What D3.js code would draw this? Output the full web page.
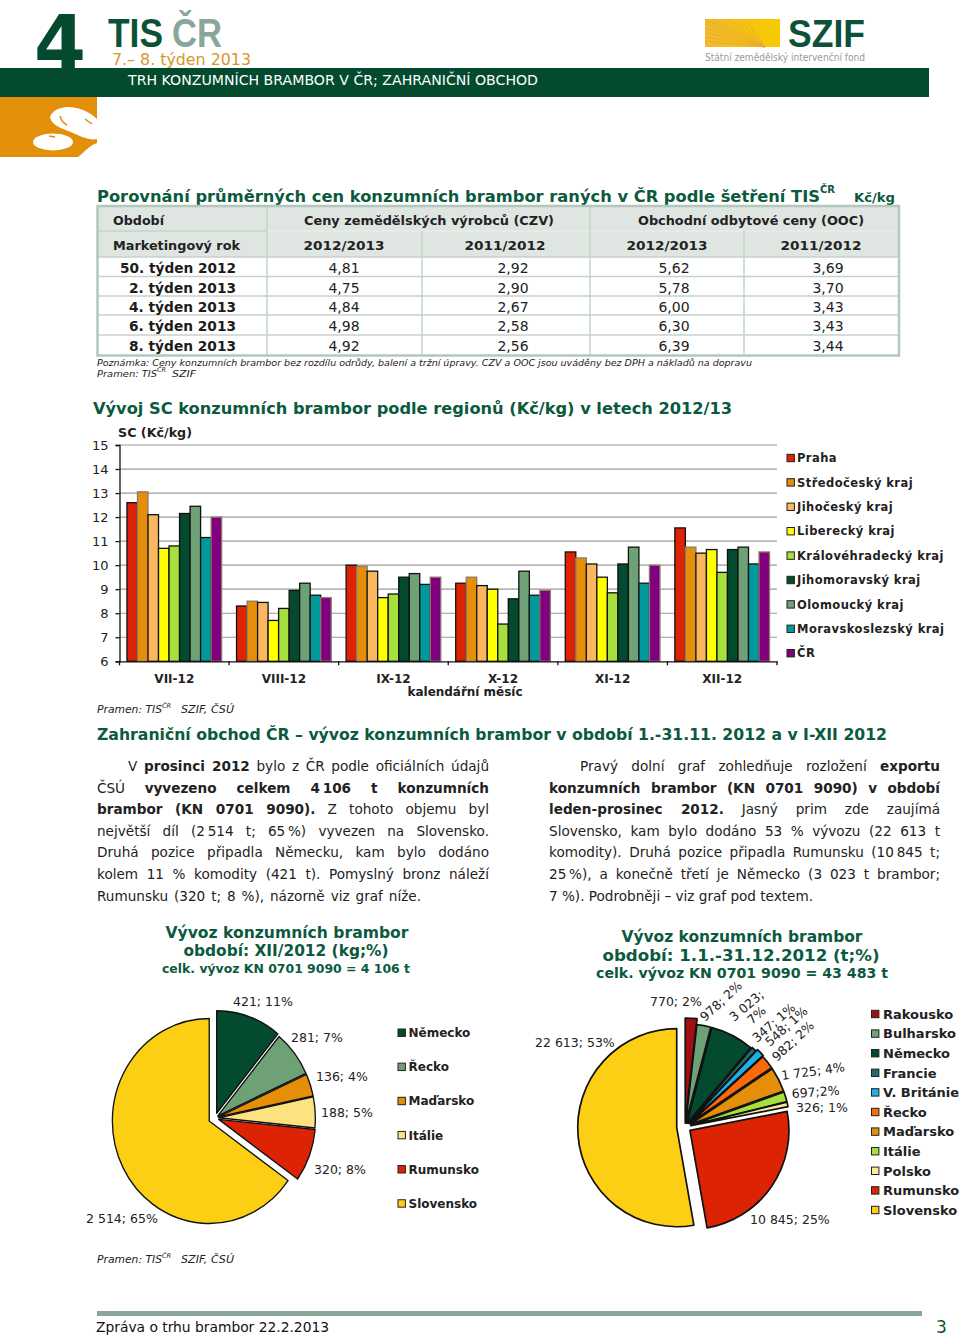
<!DOCTYPE html>
<html>
<head>
<meta charset="utf-8">
<script src="https://d3js.org/d3.v7.min.js"></script>
<style>
html, body { margin: 0; padding: 0; background: #fff; }
svg { display: block; }
text { font-family: "DejaVu Sans", sans-serif; }
</style>
</head>
<body>
<script>
// table
const weeks = ["50. týden 2012", "2. týden 2013", "4. týden 2013", "6. týden 2013", "8. týden 2013"];
const czv1213 = ["4,81", "4,75", "4,84", "4,98", "4,92"];
const czv1112 = ["2,92", "2,90", "2,67", "2,58", "2,56"];
const ooc1213 = ["5,62", "5,78", "6,00", "6,30", "6,39"];
const ooc1112 = ["3,69", "3,70", "3,43", "3,43", "3,44"];

// bar chart
const months = ["VII-12", "VIII-12", "IX-12", "X-12", "XI-12", "XII-12"];
const regions = ["Praha", "Středočeský kraj", "Jihočeský kraj", "Liberecký kraj", "Královéhradecký kraj",
  "Jihomoravský kraj", "Olomoucký kraj", "Moravskoslezský kraj", "ČR"];
const praha = [12.6, 8.3, 10.0, 9.25, 10.55, 11.55];
const stredocesky = [13.05, 8.5, 9.95, 9.5, 10.3, 10.75];
const jihocesky = [12.1, 8.45, 9.75, 9.15, 10.05, 10.5];
const liberecky = [10.7, 7.7, 8.65, 9.0, 9.5, 10.65];
const kralovehradecky = [10.8, 8.2, 8.8, 7.55, 8.85, 9.7];
const jihomoravsky = [12.15, 8.95, 9.5, 8.6, 10.05, 10.65];
const olomoucky = [12.45, 9.25, 9.65, 9.75, 10.75, 10.75];
const moravskoslezsky = [11.15, 8.75, 9.2, 8.75, 9.25, 10.05];
const cr = [12.0, 8.65, 9.5, 8.95, 10.0, 10.55];
const regionValues = [praha, stredocesky, jihocesky, liberecky, kralovehradecky, jihomoravsky, olomoucky, moravskoslezsky, cr];
const regionColors = ["#dc2304", "#e58e0a", "#fbb75f", "#ffff00", "#a5e03c", "#034a2e", "#6fa176", "#009a9c", "#800080"];

// pies
const pie1Names = ["Německo", "Řecko", "Maďarsko", "Itálie", "Rumunsko", "Slovensko"];
const pie1Values = [421, 281, 136, 188, 320, 2514];
const pie1Labels = ["421; 11%", "281; 7%", "136; 4%", "188; 5%", "320; 8%", "2 514; 65%"];
const pie1Colors = ["#034a2e", "#6fa176", "#e58e0a", "#fde280", "#dc2304", "#fccf15"];

const pie2Names = ["Rakousko", "Bulharsko", "Německo", "Francie", "V. Británie", "Řecko", "Maďarsko", "Itálie", "Polsko", "Rumunsko", "Slovensko"];
const pie2Values = [770, 978, 3023, 347, 548, 982, 1725, 697, 326, 10845, 22613];
const pie2Colors = ["#a00f14", "#6fa176", "#034a2e", "#1b6e70", "#1fb0e8", "#fb6a0a", "#e58e0a", "#a5e03c", "#fde9a0", "#dc2304", "#fccf15"];

var green = "#0b5a3e", dark = "#222";

var svg = d3.select("body").append("svg").attr("width", 960).attr("height", 1336);

// small helper, width squeezes the text to the measured width of the original
function t(x, y, str, o) {
  o = o || {};
  var el = svg.append("text").attr("x", x).attr("y", y).text(str)
    .attr("font-size", o.size || 12)
    .attr("font-weight", o.bold ? "bold" : "normal")
    .attr("font-style", o.italic ? "italic" : "normal")
    .attr("fill", o.fill || dark)
    .attr("text-anchor", o.anchor || "start");
  if (o.font) el.style("font-family", o.font);
  if (o.width) el.attr("textLength", o.width).attr("lengthAdjust", "spacingAndGlyphs");
  if (o.spacing) el.attr("letter-spacing", o.spacing);
  if (o.rotate) el.attr("transform", "rotate(" + o.rotate + " " + x + " " + y + ")");
  return el;
}

// ---- header
t(34, 70, "4", {size: 76, bold: true, fill: "#034a2e", width: 52});
t(108, 47, "TIS", {size: 41, bold: true, fill: "#0d5238", width: 55, font: "Liberation Sans"});
t(172, 47, "ČR", {size: 41, bold: true, fill: "#8aa69a", width: 50, font: "Liberation Sans"});
t(112, 65, "7.– 8. týden 2013", {size: 16, fill: "#d8962a", width: 139});
svg.append("rect").attr("x", 0).attr("y", 68).attr("width", 929).attr("height", 29).attr("fill", "#034a2e");
t(128, 85, "TRH KONZUMNÍCH BRAMBOR V ČR; ZAHRANIČNÍ OBCHOD", {size: 14, fill: "#fff", width: 410});

svg.append("rect").attr("x", 0).attr("y", 97).attr("width", 97).attr("height", 60).attr("fill", "#e38f0a");
svg.append("path").attr("fill", "#fff")
  .attr("d", "M50,117C53,108 66,105 76,108C85,110 92,114 97,119L97,139C90,141 80,136 73,133C65,129 52,127 50,117Z");
svg.append("ellipse").attr("cx", 53).attr("cy", 142).attr("rx", 20).attr("ry", 8.5).attr("fill", "#fff");
svg.append("path").attr("fill", "#fff").attr("d", "M78,157C84,153 88,146 97,143L97,157Z");
svg.append("path").attr("fill", "none").attr("stroke", "#e38f0a").attr("stroke-width", 1.5)
  .attr("d", "M60,116C61,120 63,123 67,125M85,119L92,124M49,136L55,137");

// SZIF logo
var grad = svg.append("defs").append("linearGradient").attr("id", "field");
grad.append("stop").attr("offset", "0").attr("stop-color", "#f3b92e");
grad.append("stop").attr("offset", "0.6").attr("stop-color", "#f5c50c");
grad.append("stop").attr("offset", "1").attr("stop-color", "#f6cb00");
svg.append("rect").attr("x", 705).attr("y", 19).attr("width", 75).attr("height", 28).attr("fill", "url(#field)");
svg.append("g").selectAll("line").data(d3.range(0, 11)).enter().append("line")
  .attr("x1", 765).attr("y1", 47)
  .attr("x2", function(d) { return d < 6 ? 705 + d * 8 : 705; })
  .attr("y2", function(d) { return d < 6 ? 19 : 19 + (d - 5) * 4.5; })
  .attr("stroke", "#e6a63a").attr("stroke-width", 0.7);
t(788, 47, "SZIF", {size: 39, bold: true, fill: "#0d5238", width: 77, font: "Liberation Sans"});
t(705, 61, "Státní zemědělský intervenční fond", {size: 10, fill: "#9a9a9a", width: 160});

// ---- table
t(97, 202, "Porovnání průměrných cen konzumních brambor raných v ČR podle šetření TIS", {size: 16, bold: true, fill: green, width: 723});
t(820, 193, "ČR", {size: 10, bold: true, fill: green, width: 15});
t(854, 202, "Kč/kg", {size: 11.5, bold: true, fill: green, width: 41});

var rowY = [206, 231, 257, 276.5, 296, 315, 335, 355];
svg.append("rect").attr("x", 97).attr("y", 206).attr("width", 802).attr("height", 51).attr("fill", "#dfe6e2");
var tableLine = "#c3d3ca";
svg.append("g").selectAll("line").data(rowY.slice(1, -1)).enter().append("line")
  .attr("x1", 97).attr("x2", 899).attr("y1", function(d) { return d; }).attr("y2", function(d) { return d; })
  .attr("stroke", tableLine).attr("stroke-width", 1.5);
svg.append("line").attr("x1", 267).attr("x2", 899).attr("y1", 231).attr("y2", 231).attr("stroke", "#fff").attr("stroke-width", 1);
svg.append("g").selectAll("line").data([267, 422, 590, 744]).enter().append("line")
  .attr("x1", function(d) { return d; }).attr("x2", function(d) { return d; })
  .attr("y1", function(d) { return d == 267 || d == 590 ? 206 : 231; }).attr("y2", 355)
  .attr("stroke", tableLine).attr("stroke-width", 1.5);
svg.append("rect").attr("x", 97.5).attr("y", 206).attr("width", 801.5).attr("height", 149.5)
  .attr("fill", "none").attr("stroke", "#b3c8bc").attr("stroke-width", 2.5);

t(113, 225, "Období", {size: 12.5, bold: true, width: 51});
t(113, 250, "Marketingový rok", {size: 12.5, bold: true, width: 127});
t(429, 225, "Ceny zemědělských výrobců (CZV)", {size: 12.5, bold: true, anchor: "middle", width: 250});
t(751, 225, "Obchodní odbytové ceny (OOC)", {size: 12.5, bold: true, anchor: "middle", width: 226});
[["2012/2013", 344], ["2011/2012", 505], ["2012/2013", 667], ["2011/2012", 821]].forEach(function(h) {
  t(h[1], 250, h[0], {size: 12.5, bold: true, anchor: "middle", width: 81});
});
weeks.forEach(function(w, i) {
  var y = rowY[i + 2] + 16;
  t(236, y, w, {size: 14, bold: true, anchor: "end", fill: "#1c1c1c", width: i == 0 ? 116 : 107});
  t(344, y, czv1213[i], {size: 14, anchor: "middle"});
  t(513, y, czv1112[i], {size: 14, anchor: "middle"});
  t(674, y, ooc1213[i], {size: 14, anchor: "middle"});
  t(828, y, ooc1112[i], {size: 14, anchor: "middle"});
});
t(97, 366, "Poznámka: Ceny konzumních brambor bez rozdílu odrůdy, balení a tržní úpravy. CZV a OOC jsou uváděny bez DPH a nákladů na dopravu", {size: 9.5, italic: true, width: 655});
t(97, 377, "Pramen: TIS", {size: 9.5, italic: true, width: 60});
t(157, 372, "ČR", {size: 6.5, italic: true});
t(172, 377, "SZIF", {size: 9.5, italic: true, width: 24});

// ---- bar chart
t(93, 414, "Vývoj SC konzumních brambor podle regionů (Kč/kg) v letech 2012/13", {size: 16, bold: true, fill: green, width: 639});
t(118, 437, "SC (Kč/kg)", {size: 12, bold: true, width: 74});

var plotL = 119.5, plotR = 777, plotT = 445, plotB = 661.3;
var y = d3.scaleLinear().domain([6, 15]).range([plotB, plotT]);
var x0 = d3.scaleBand().domain(months).range([plotL, plotR]).paddingInner(0.136).paddingOuter(0.068);
var x1 = d3.scaleBand().domain(regions).range([0, x0.bandwidth()]);

svg.append("g").selectAll("line").data(d3.range(7, 16)).enter().append("line")
  .attr("x1", plotL).attr("x2", plotR)
  .attr("y1", function(d) { return y(d); }).attr("y2", function(d) { return y(d); })
  .attr("stroke", "#9a9a9a").attr("stroke-width", 1.2);

regions.forEach(function(r, i) {
  svg.append("g").selectAll("rect").data(regionValues[i]).enter().append("rect")
    .attr("x", function(d, j) { return x0(months[j]) + x1(r); })
    .attr("y", function(d) { return y(d); })
    .attr("width", x1.bandwidth())
    .attr("height", function(d) { return y(6) - y(d); })
    .attr("fill", regionColors[i])
    .attr("stroke", i == 1 || i == 8 ? "#8a7a6a" : "#111")
    .attr("stroke-width", 1.3);
});

var yAxis = svg.append("g").attr("transform", "translate(" + plotL + ",0)")
  .call(d3.axisLeft(y).tickValues(d3.range(6, 16)).tickFormat(d3.format("d")).tickSize(4).tickPadding(7));
yAxis.selectAll("text").attr("font-size", 13).attr("fill", dark).style("font-family", "DejaVu Sans");
yAxis.selectAll("line,path").attr("stroke", "#111").attr("stroke-width", 1.3);

var xAxis = svg.append("g").attr("transform", "translate(0," + plotB + ")")
  .call(d3.axisBottom(x0).tickSize(0).tickPadding(13));
xAxis.select("path").attr("stroke", "#111").attr("stroke-width", 1.3);
xAxis.selectAll("text").attr("font-size", 12).attr("font-weight", "bold").attr("fill", dark).style("font-family", "DejaVu Sans");
// the group boundaries carry the ticks here
svg.append("g").selectAll("line").data(months.map(function(m) { return x0(m) - x0.step() * 0.068; }).concat([plotR]))
  .enter().append("line")
  .attr("x1", function(d) { return d; }).attr("x2", function(d) { return d; })
  .attr("y1", plotB).attr("y2", plotB + 4)
  .attr("stroke", "#111").attr("stroke-width", 1.3);
t(465, 696, "kalendářní měsíc", {size: 12, bold: true, anchor: "middle", width: 115});
t(97, 713, "Pramen: TIS", {size: 10.5, italic: true, width: 65});
t(162, 708, "ČR", {size: 6.5, italic: true});
t(181, 713, "SZIF, ČSÚ", {size: 10.5, italic: true, width: 53});

function legend(names, colors, lx, ly, step, size, gap, spacing) {
  names.forEach(function(n, i) {
    var cy = ly + i * step;
    svg.append("rect").attr("x", lx).attr("y", cy - 3.7).attr("width", 7.4).attr("height", 7.4)
      .attr("fill", colors[i]).attr("stroke", "#222").attr("stroke-width", 1);
    t(lx + gap, cy + size * 0.37, n, {size: size, bold: true, spacing: spacing});
  });
}
legend(regions, regionColors, 787, 458, 24.4, 11.5, 10, 0.44);

// ---- text columns
t(97, 740, "Zahraniční obchod ČR – vývoz konzumních brambor v období 1.-31.11. 2012 a v I-XII 2012", {size: 16, bold: true, fill: green, width: 790});

var leftLines = [
  [["V ", 0], ["prosinci 2012", 1], [" bylo z ČR podle oficiálních údajů", 0]],
  [["ČSÚ ", 0], ["vyvezeno celkem 4\u2009106 t konzumních", 1]],
  [["brambor (KN 0701 9090).", 1], [" Z tohoto objemu byl", 0]],
  [["největší díl (2\u2009514 t; 65\u2009%) vyvezen na Slovensko.", 0]],
  [["Druhá pozice připadla Německu, kam bylo dodáno", 0]],
  [["kolem 11 % komodity (421 t). Pomyslný bronz náleží", 0]],
  [["Rumunsku (320 t; 8 %), názorně viz graf níže.", 0]]
];
var rightLines = [
  [["Pravý dolní graf zohledňuje rozložení ", 0], ["exportu", 1]],
  [["konzumních brambor (KN 0701 9090) v období", 1]],
  [["leden-prosinec 2012.", 1], [" Jasný prim zde zaujímá", 0]],
  [["Slovensko, kam bylo dodáno 53 % vývozu (22 613 t", 0]],
  [["komodity). Druhá pozice připadla Rumunsku (10\u2009845 t;", 0]],
  [["25\u2009%), a konečně třetí je Německo (3 023 t brambor;", 0]],
  [["7 %). Podrobněji – viz graf pod textem.", 0]]
];

// stretch every line by word spacing, the last one only to where it ends in the original
function paragraph(lines, left, right, lastRight, indent, top) {
  lines.forEach(function(runs, i) {
    var lx = left + (i == 0 ? indent : 0);
    var el = svg.append("text").attr("x", lx).attr("y", top + i * 21.6)
      .attr("font-size", 13.6).attr("fill", dark);
    runs.forEach(function(r) {
      el.append("tspan").text(r[0]).attr("font-weight", r[1] ? "bold" : "normal");
    });
    var str = runs.map(function(r) { return r[0]; }).join("");
    var spaces = str.split(" ").length - 1;
    var end = i < lines.length - 1 ? right : lastRight;
    el.attr("word-spacing", (end - lx - el.node().getComputedTextLength()) / spaces);
  });
}
paragraph(leftLines, 97, 489, 421, 31, 771);
paragraph(rightLines, 549, 940, 813, 31, 771);

// ---- pies
t(287, 938, "Vývoz konzumních brambor", {size: 16, bold: true, fill: green, anchor: "middle", width: 243});
t(286, 956, "období: XII/2012 (kg;%)", {size: 15, bold: true, fill: green, anchor: "middle", width: 205});
t(286, 973, "celk. vývoz KN 0701 9090 = 4 106 t", {size: 12, bold: true, fill: green, anchor: "middle", width: 248});
t(742, 942, "Vývoz konzumních brambor", {size: 16, bold: true, fill: green, anchor: "middle", width: 241});
t(741, 961, "období: 1.1.-31.12.2012 (t;%)", {size: 15, bold: true, fill: green, anchor: "middle", width: 277});
t(742, 978, "celk. vývoz KN 0701 9090 = 43 483 t", {size: 14, bold: true, fill: green, anchor: "middle", width: 292});

function explodedPie(values, colors, cx, cy, radius, offsets, sx, sw) {
  var arcs = d3.pie().sort(null)(values);
  var g = svg.append("g");
  g.selectAll("path").data(arcs).enter().append("path")
    .attr("d", function(d, i) { return d3.arc().innerRadius(0).outerRadius(radius[i] || radius)(d); })
    .attr("transform", function(d, i) {
      var mid = (d.startAngle + d.endAngle) / 2;
      return "translate(" + (cx + offsets[i] * Math.sin(mid)) + "," + (cy - offsets[i] * Math.cos(mid)) + ") scale(" + sx + ",1)";
    })
    .attr("fill", function(d, i) { return colors[i]; })
    .attr("stroke", "#111").attr("stroke-width", sw).attr("stroke-linejoin", "round");
}

explodedPie(pie1Values, pie1Colors, 215, 1118, 102.5, [5, 3.5, 3.5, 3.5, 4, 6.5], 0.945, 1.4);
explodedPie(pie2Values, pie2Colors, 685, 1127, [105, 99, 99, 99, 100, 99, 99, 99, 99, 99, 99], [4, 4, 4, 5, 6, 6, 6, 6, 6, 6, 8.3], 1, 1.7);

// label spots were placed by hand in the original
var pie1Spots = [[233, 1006], [291, 1042], [316, 1081], [321, 1117], [314, 1174], [86, 1223]];
pie1Labels.forEach(function(l, i) {
  t(pie1Spots[i][0], pie1Spots[i][1], l, {size: 12.5});
});
legend(pie1Names, pie1Colors, 398, 1032.7, 34.15, 12, 10.5);

[
  ["770; 2%", 650, 1006, 0],
  ["978; 2%", 705, 1022, -43],
  ["3 023;", 734, 1022, -40],
  ["7%", 752, 1025, -42],
  ["347; 1%", 757, 1043, -41],
  ["548; 1%", 770, 1047, -42],
  ["982; 2%", 777, 1062, -43],
  ["1 725; 4%", 782, 1080, -8],
  ["697;2%", 792, 1098, -4],
  ["326; 1%", 796, 1112, 0],
  ["22 613; 53%", 535, 1047, 0],
  ["10 845; 25%", 750, 1224, 0]
].forEach(function(l) {
  t(l[1], l[2], l[0], {size: 12.5, rotate: l[3]});
});
legend(pie2Names, pie2Colors, 871.5, 1014, 19.6, 13, 11.5);

t(97, 1263, "Pramen: TIS", {size: 10.5, italic: true, width: 65});
t(162, 1258, "ČR", {size: 6.5, italic: true});
t(181, 1263, "SZIF, ČSÚ", {size: 10.5, italic: true, width: 53});

// ---- footer
svg.append("rect").attr("x", 97).attr("y", 1311).attr("width", 825).attr("height", 5).attr("fill", "#8aa69a");
t(96, 1332, "Zpráva o trhu brambor 22.2.2013", {size: 14, fill: "#111", width: 233});
t(936, 1333, "3", {size: 17, fill: "#0d5238"});
</script>
</body>
</html>
